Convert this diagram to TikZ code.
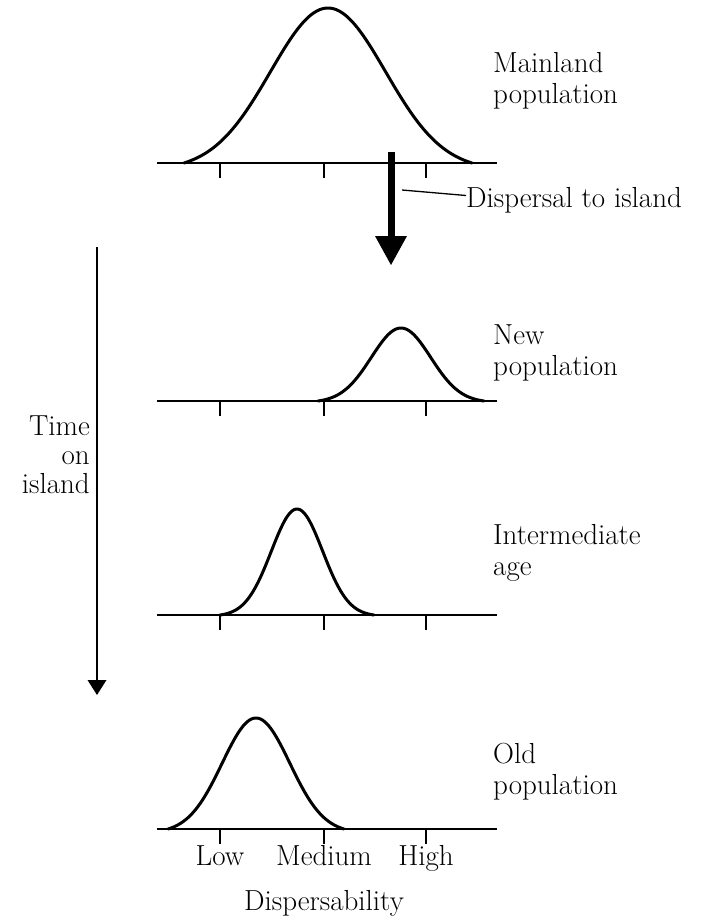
\documentclass[tikz,border=0pt]{standalone}
\usetikzlibrary{arrows.meta}
\newcommand\distpanel[6]{% name, baseline y, mu, halfwidth, amplitude, k
  \coordinate (#1L) at (157,#2);
  \coordinate (#1R) at (497,#2);
  \draw[axisln] (#1L) -- (#1R);
  \foreach \tx in {220,324,426} \draw[tickln] (\tx,#2) -- (\tx,#2+15);
  \draw[curveln] plot[domain=-#6:#6, samples=90, smooth]
    ({#3+#4/#6*\x}, {#2 - #5*(exp(-\x*\x/2)-exp(-#6*#6/2))/(1-exp(-#6*#6/2))});
}
\begin{document}
\begin{tikzpicture}[x=1pt,y=-1pt,
  axisln/.style={line width=1.3pt},
  tickln/.style={line width=1.3pt},
  curveln/.style={line width=3pt, line join=round, line cap=round},
  txt/.style={font=\fontsize{29}{31}\selectfont, inner sep=0pt},
  rlabel/.style={txt, anchor=west, align=left}]
\useasboundingbox (0,0) rectangle (702,918);
\fill[white] (0,0) rectangle (702,918);

% four distributions
\distpanel{p1}{163}{328}{144}{155}{2.5}
\distpanel{p2}{401}{401}{83}{73}{2.8}
\distpanel{p3}{615}{297}{77}{106}{3}
\distpanel{p4}{829}{256}{88}{111}{2.6}

% right labels
\node[rlabel] (mainland) at (493,81) {Mainland\\population};
\node[rlabel] (newpop) at (493,352.5) {New\\population};
\node[rlabel] (interm) at (493,552.5) {Intermediate\\age};
\node[rlabel] (oldpop) at (493,771.5) {Old\\population};

% dispersal arrow
\coordinate (dtop) at (391,152);
\coordinate (dtip) at (391,265);
\draw[line width=7pt, -{Triangle[width=32pt 0, length=29pt 0, line width=0pt]}] (dtop) -- (dtip);
\node[txt, anchor=base west] (disp) at (466,207) {Dispersal to island};
\coordinate (lead) at (402,190);
\draw[line width=1.3pt] (lead) -- (disp.west |- 0,195.5);

% time arrow
\coordinate (ttop) at (97,247);
\coordinate (tbot) at (97,695);
\draw[line width=1.3pt, -{Triangle[width=19pt 0, length=15pt 0, line width=0pt]}] (ttop) -- (tbot);
\node[txt, anchor=east, align=right, font=\fontsize{29}{29}\selectfont] (time) at (90,455) {Time\\on\\island};

% axis labels
\node[txt, anchor=base] (low) at (220,865) {Low};
\node[txt, anchor=base] (med) at (324,865) {Medium};
\node[txt, anchor=base] (high) at (426,865) {High};
\node[txt, anchor=base] (dispers) at (324,910) {Dispersability};
\end{tikzpicture}
\end{document}
